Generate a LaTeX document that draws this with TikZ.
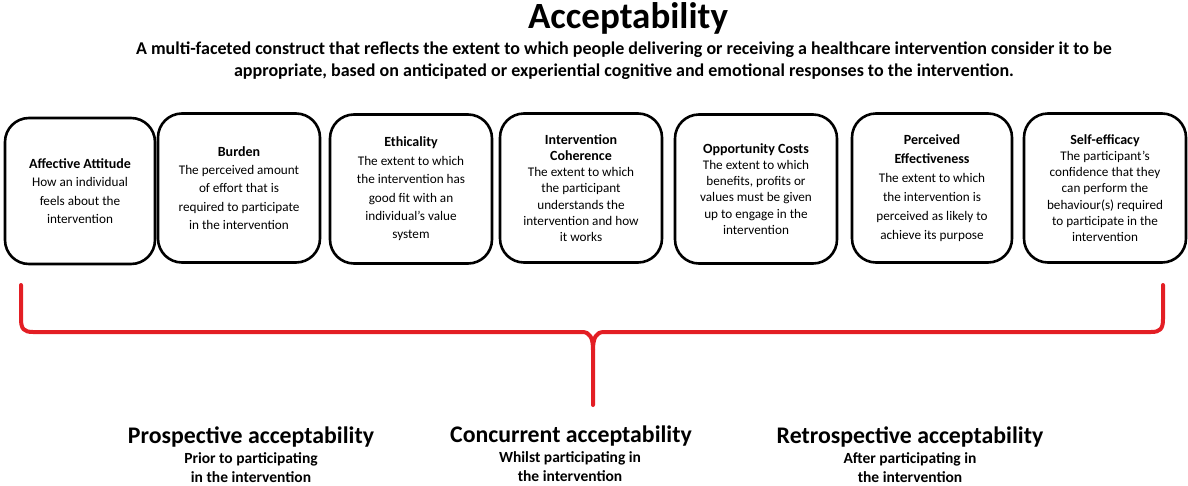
\documentclass[tikz,border=0pt]{standalone}
\usepackage{fontspec}
\setmainfont{Carlito}
\newlength{\du}
\setlength{\du}{1pt}
\definecolor{bracecolor}{rgb}{0.890000, 0.117647, 0.141176}
\newcommand{\boxhead}[1]{{\fontsize{14}{18}\selectfont\bfseries #1}}
\tikzset{
  factorbox/.style={draw=black, line width=2.6\du, rounded corners=24\du,
    minimum width=162\du, minimum height=149\du, align=center, inner sep=3\du,
    font=\fontsize{13.2}{18.4}\selectfont},
  tightlines/.style={font=\fontsize{13.2}{16.2}\selectfont},
  looselines/.style={font=\fontsize{13.2}{19}\selectfont},
  phasehead/.style={anchor=base, font=\fontsize{23.8}{28}\selectfont\bfseries},
  phasenote/.style={anchor=base, align=center, font=\fontsize{15.5}{19}\selectfont\bfseries},
}

\begin{document}
\begin{tikzpicture}
\pgftransformxscale{1.000000}
\pgftransformyscale{-1.000000}
\useasboundingbox (0\du,0\du) rectangle (1188\du,485\du);
% heading
\node[anchor=base] (title) at (628\du,28\du){\fontsize{37}{40}\selectfont\bfseries Acceptability};
\node[anchor=base, align=center, font=\fontsize{18}{21.5}\selectfont\bfseries] (definition) at (624\du,76\du){A multi-faceted construct that reflects the extent to which people delivering or receiving a healthcare intervention consider it to be\\appropriate, based on anticipated or experiential cognitive and emotional responses to the intervention.};
% the seven component boxes
\node[factorbox, minimum width=150\du, minimum height=146\du] (affective) at (80\du,191\du){\boxhead{Affective Attitude}\\How an individual\\feels about the\\intervention};
\node[factorbox] (burden) at (239\du,188\du){\boxhead{Burden}\\The perceived amount\\of effort that is\\required to participate\\in the intervention};
\node[factorbox] (ethicality) at (411\du,189\du){\boxhead{Ethicality}\\The extent to which\\the intervention has\\good fit with an\\individual’s value\\system};
\node[factorbox, tightlines] (coherence) at (581\du,188\du){\boxhead{Intervention}\\\boxhead{Coherence}\\The extent to which\\the participant\\understands the\\intervention and how\\it works};
\node[factorbox, tightlines] (opportunity) at (756\du,189\du){\boxhead{Opportunity Costs}\\The extent to which\\benefits, profits or\\values must be given\\up to engage in the\\intervention};
\node[factorbox, looselines, minimum width=160\du] (effectiveness) at (932\du,188\du){\boxhead{Perceived}\\\boxhead{Effectiveness}\\The extent to which\\the intervention is\\perceived as likely to\\achieve its purpose};
\node[factorbox, tightlines] (selfefficacy) at (1105\du,188\du){\boxhead{Self-efficacy}\\The participant’s\\confidence that they\\can perform the\\behaviour(s) required\\to participate in the\\intervention};
% red brace
\coordinate (braceleft) at (21\du,285\du);
\coordinate (braceright) at (1163\du,285\du);
\coordinate (bracetip) at (593\du,405\du);
\draw[bracecolor, line width=4\du, line cap=round, line join=round]
  (braceleft)--(21\du,319\du) .. controls (21\du,329\du) and (24\du,332\du) .. (33\du,332\du)
  --(582\du,332\du) .. controls (590\du,332\du) and (593\du,338\du) .. (593\du,350\du)
  --(bracetip);
\draw[bracecolor, line width=4\du, line cap=round, line join=round]
  (593\du,350\du) .. controls (593\du,338\du) and (596\du,332\du) .. (604\du,332\du)
  --(1151\du,332\du) .. controls (1160\du,332\du) and (1163\du,329\du) .. (1163\du,319\du)
  --(braceright);
% phases
\node[phasehead] (prospective) at (251\du,443\du){Prospective acceptability};
\node[phasenote] (prospectivenote) at (251\du,482\du){Prior to participating\\in the intervention};
\node[phasehead] (concurrent) at (571\du,442\du){Concurrent acceptability};
\node[phasenote] (concurrentnote) at (570\du,481\du){Whilst participating in\\the intervention};
\node[phasehead] (retrospective) at (910\du,443\du){Retrospective acceptability};
\node[phasenote] (retrospectivenote) at (910\du,482\du){After participating in\\the intervention};
\end{tikzpicture}
\end{document}
